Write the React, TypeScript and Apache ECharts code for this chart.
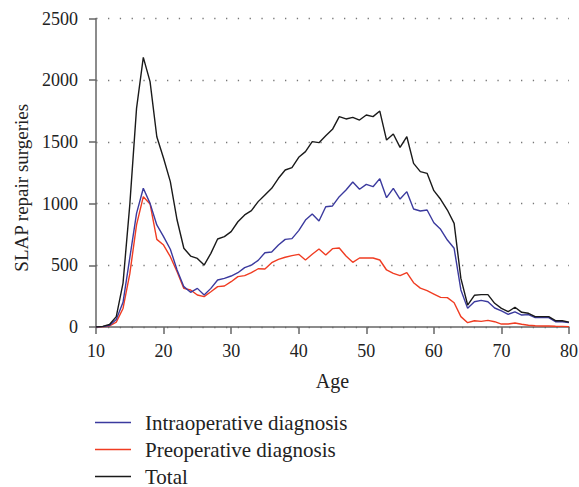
import React, { useEffect, useRef } from "react";
import * as echarts from "echarts";

const ages = [
  10, 11, 12, 13, 14, 15, 16, 17, 18, 19, 20, 21, 22, 23, 24, 25, 26, 27, 28, 29,
  30, 31, 32, 33, 34, 35, 36, 37, 38, 39, 40, 41, 42, 43, 44, 45, 46, 47, 48, 49,
  50, 51, 52, 53, 54, 55, 56, 57, 58, 59, 60, 61, 62, 63, 64, 65, 66, 67, 68, 69,
  70, 71, 72, 73, 74, 75, 76, 77, 78, 79, 80,
];

const intraoperative = [
  0, 3, 12, 60, 200, 560, 921, 1124, 1002, 827, 732, 630, 462, 327, 281, 313, 259, 313, 381, 394,
  413, 440, 481, 502, 540, 602, 608, 664, 710, 716, 781, 867, 916, 859, 975, 981, 1056, 1110, 1175, 1116,
  1156, 1137, 1202, 1048, 1124, 1037, 1097, 956, 940, 948, 845, 792, 705, 638, 300, 151, 205, 216, 205, 154,
  130, 103, 122, 97, 100, 76, 76, 76, 43, 43, 35,
];

const preoperative = [
  0, 2, 8, 40, 150, 430, 827, 1056, 997, 710, 664, 570, 448, 313, 300, 259, 246, 286, 327, 332,
  367, 408, 416, 440, 472, 470, 521, 548, 565, 578, 589, 543, 589, 632, 583, 635, 640, 575, 524, 559,
  559, 559, 543, 462, 435, 416, 440, 359, 315, 294, 267, 240, 238, 197, 84, 35, 51, 46, 54, 43,
  24, 24, 32, 22, 14, 10, 8, 8, 6, 5, 3,
];

const total = [
  0, 5, 20, 84, 356, 990, 1772, 2185, 1988, 1542, 1367, 1178, 867, 638, 575, 556, 502, 597, 713, 732,
  773, 853, 908, 943, 1016, 1070, 1124, 1205, 1272, 1291, 1375, 1421, 1502, 1494, 1550, 1602, 1705, 1686, 1699, 1677,
  1718, 1705, 1750, 1515, 1564, 1456, 1542, 1326, 1259, 1245, 1105, 1035, 948, 840, 394, 178, 257, 262, 262, 192,
  151, 124, 160, 119, 111, 84, 84, 84, 51, 51, 40,
];

const seriesNames = ["Intraoperative diagnosis", "Preoperative diagnosis", "Total"];
const seriesColors = ["#3b3a9e", "#f03c22", "#1a1a1a"];

const FONT = "'Liberation Serif', 'Times New Roman', Times, serif";

export default function App() {
  const ref = useRef<HTMLDivElement>(null);

  useEffect(() => {
    if (!ref.current) return;
    const chart = echarts.init(ref.current, null, { renderer: "svg" });
    const pairs = (vals: number[]) => ages.map((a, i) => [a, vals[i]]);
    const datasets = [intraoperative, preoperative, total];
    const tickRich = {
      t: { fontFamily: FONT, fontSize: 18, fontWeight: "normal", color: "#222" },
    };

    chart.setOption({
      animation: false,
      backgroundColor: "#ffffff",
      textStyle: { fontFamily: FONT },
      grid: {
        left: 96,
        right: 10,
        top: 18.5,
        bottom: 160,
        containLabel: false,
        outerBoundsMode: "none",
      },
      legend: seriesNames.map((name, i) => ({
        orient: "vertical",
        left: 95,
        top: 412 + i * 27,
        padding: 0,
        itemWidth: 36,
        itemHeight: 20,
        icon: "path://M0,0 L36,0 L36,1.4 L0,1.4 Z",
        textStyle: {
          fontFamily: FONT,
          fontSize: 21,
          lineHeight: 20,
          color: "#222",
          padding: [0, 0, 0, 9],
        },
        data: [name],
      })),
      xAxis: {
        type: "value",
        min: 10,
        max: 80,
        interval: 10,
        name: "Age",
        nameLocation: "middle",
        nameGap: 44,
        nameTextStyle: { fontFamily: FONT, fontSize: 20, color: "#222" },
        axisLine: { show: true, lineStyle: { color: "#666", width: 1.5 } },
        axisTick: { show: true, length: 7, lineStyle: { color: "#666", width: 1.5 } },
        axisLabel: {
          fontFamily: FONT,
          fontSize: 18,
          color: "#222",
          margin: 15,
          formatter: (v: number) => "{t|" + v + "}",
          rich: tickRich,
        },
        splitLine: { show: false },
      },
      yAxis: {
        type: "value",
        min: 0,
        max: 2500,
        interval: 500,
        name: "SLAP repair surgeries",
        nameLocation: "middle",
        nameGap: 64,
        nameTextStyle: {
          fontFamily: FONT,
          fontSize: 19,
          color: "#222",
          padding: [0, 30, 0, 0],
        },
        axisLine: { show: true, lineStyle: { color: "#666", width: 1.5 } },
        axisTick: { show: true, length: 7, lineStyle: { color: "#666", width: 1.5 } },
        axisLabel: {
          fontFamily: FONT,
          fontSize: 18,
          color: "#222",
          margin: 18,
          formatter: (v: number) => "{t|" + v + "}",
          rich: tickRich,
        },
        splitLine: {
          show: true,
          lineStyle: { color: "#777", width: 1.3, type: [1.3, 10.5], dashOffset: -12 },
        },
      },
      series: seriesNames.map((name, i) => ({
        name,
        type: "line",
        data: pairs(datasets[i]),
        symbol: "none",
        lineStyle: { color: seriesColors[i], width: 1.4 },
        itemStyle: { color: seriesColors[i] },
        z: 3 + (i === 2 ? 2 : i === 0 ? 1 : 0),
      })),
    });

    return () => chart.dispose();
  }, []);

  return (
    <div
      ref={ref}
      style={{ position: "fixed", left: 0, top: 0, width: 579, height: 487 }}
    />
  );
}
